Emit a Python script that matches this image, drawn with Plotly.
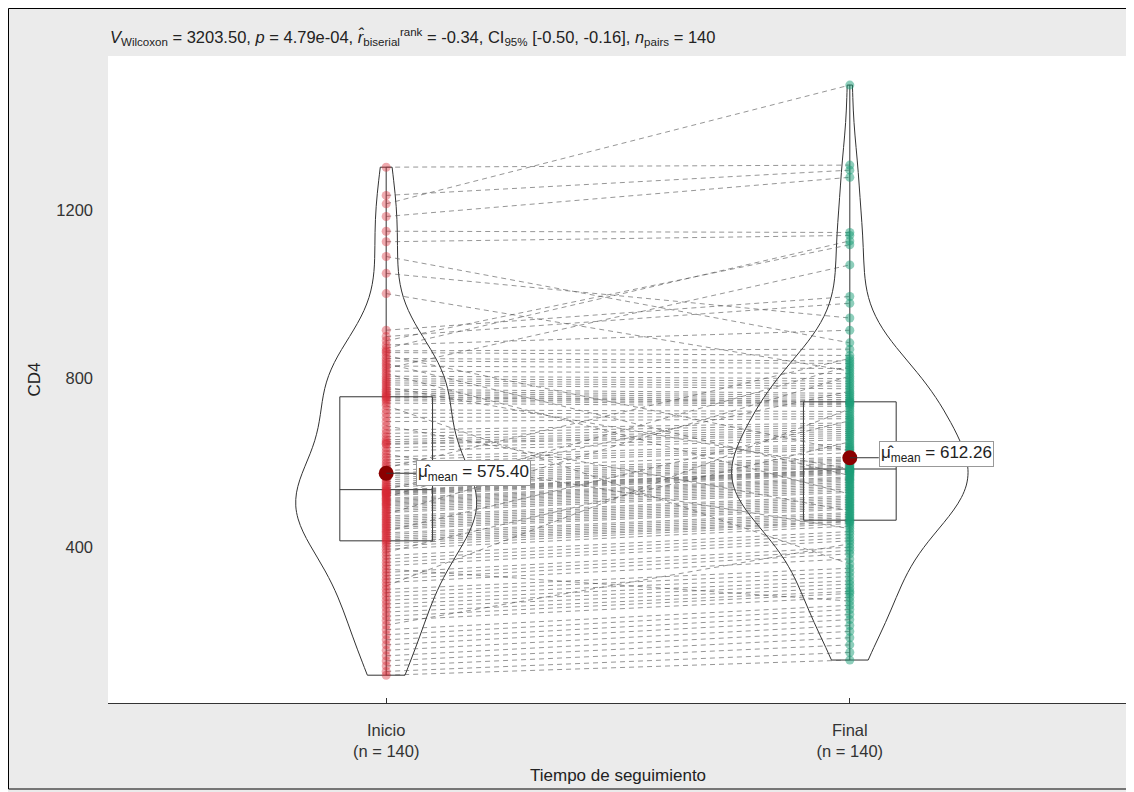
import plotly.graph_objects as go
import numpy as np

groups = ["Inicio", "Final"]
tick_labels = ["Inicio<br>(n = 140)", "Final<br>(n = 140)"]
x_title = "Tiempo de seguimiento"
y_title = "CD4"
y_ticks = [400, 800, 1200]

# CD4 at baseline (paired order)
inicio = [96, 105, 118, 130, 142, 155, 168, 180, 192, 204, 215, 226, 236, 246, 256, 265, 274, 283, 292, 300,
          308, 316, 324, 332, 340, 348, 356, 364, 372, 380, 388, 395, 402, 408, 413,
          417, 421, 425, 430, 434, 438, 442, 446, 450, 454, 458, 462, 466, 470, 474, 478, 482, 486, 490, 494,
          498, 501, 504, 507, 510, 513, 516, 519, 522, 525, 527, 529, 531, 533, 535,
          538, 542, 546, 550, 555, 560, 565, 570, 576, 582, 588, 594, 600, 607, 614, 621, 628, 636, 644, 646,
          650, 655, 662, 670, 678, 688, 698, 708, 718, 726, 736, 742, 748, 752, 756,
          758, 762, 766, 770, 775, 780, 785, 790, 795, 800, 806, 812, 818, 824, 830, 836, 842, 848, 855, 862,
          866, 872, 880, 890, 900, 915, 1002, 1050, 1090, 1125, 1150, 1185, 1215, 1235, 1302]

# CD4 at end of follow-up (same patients, same order)
final = [132, 150, 168, 185, 200, 214, 228, 240, 252, 262, 408, 281, 290, 295, 303, 312, 320, 330, 340, 350,
         728, 372, 384, 392, 400, 272, 415, 422, 430, 437, 650, 450, 456, 460, 462,
         466, 470, 474, 478, 482, 700, 490, 494, 498, 502, 506, 510, 514, 518, 522, 806, 530, 534, 538, 542,
         546, 550, 554, 558, 561, 564, 567, 830, 573, 576, 578, 580, 582, 584, 585,
         770, 590, 593, 596, 600, 604, 607, 610, 614, 624, 848, 632, 636, 640, 645, 444, 655, 660, 665, 670,
         675, 680, 685, 690, 695, 486, 705, 710, 716, 722, 360, 734, 738, 741, 744,
         746, 750, 755, 760, 765, 586, 776, 782, 788, 794, 800, 526, 812, 1070, 824, 570, 836, 842, 628, 855,
         870, 1127, 915, 1118, 979, 995, 818, 944, 885, 1140, 1147, 1278, 1497, 1295, 1307]

series = [inicio, final]
positions = [1, 2]
point_colors = ["rgba(214,39,52,0.4)", "rgba(27,158,119,0.5)"]
violin_widths = [0.39, 0.51]
bandwidths = [95, 90]
label_xshift = [30, 29]
label_yshift = [0, 4]

title_html = ("<i>V</i><sub>Wilcoxon</sub> = 3203.50, <i>p</i> = 4.79e-04, "
              "<i>r̂</i><sub>biserial</sub><sup>rank</sup> = -0.34, CI<sub>95%</sub> [-0.50, -0.16], "
              "<i>n</i><sub>pairs</sub> = 140")

FONT = "Liberation Sans, Arial, sans-serif"
FS = 17

fig = go.Figure()

# violins
for pos, vals, w, bw in zip(positions, series, violin_widths, bandwidths):
    fig.add_trace(go.Violin(x0=pos, y=vals, width=w, bandwidth=bw, spanmode="hard",
                            scalemode="width", points=False,
                            line=dict(color="#333333", width=1),
                            fillcolor="rgba(255,255,255,0)",
                            box_visible=False, meanline_visible=False,
                            hoverinfo="skip", showlegend=False))

# boxes
for pos, vals in zip(positions, series):
    fig.add_trace(go.Box(x0=pos, y=vals, width=0.2, boxpoints=False, whiskerwidth=0,
                         quartilemethod="linear",
                         line=dict(color="#333333", width=1),
                         fillcolor="rgba(255,255,255,0.2)",
                         hoverinfo="skip", showlegend=False))

# paired connecting lines
lx, ly = [], []
for a, b in zip(inicio, final):
    lx += [positions[0], positions[1], None]
    ly += [a, b, None]
fig.add_trace(go.Scatter(x=lx, y=ly, mode="lines",
                         line=dict(color="rgba(80,80,80,0.6)", width=1, dash="5px,4px"),
                         hoverinfo="skip", showlegend=False))

# points
for pos, vals, col in zip(positions, series, point_colors):
    fig.add_trace(go.Scatter(x=[pos] * len(vals), y=vals, mode="markers",
                             marker=dict(size=9, color=col, line=dict(width=0)),
                             hoverinfo="skip", showlegend=False))

# means
annotations = []
shapes = []
for pos, vals, sh, ysh in zip(positions, series, label_xshift, label_yshift):
    m = float(np.mean(vals))
    shapes.append(dict(type="line", xref="x", yref="y", xsizemode="pixel", xanchor=pos,
                       x0=0, x1=sh, y0=m, y1=m, line=dict(color="#333333", width=1), layer="above"))
    fig.add_trace(go.Scatter(x=[pos], y=[m], mode="markers",
                             marker=dict(size=15, color="#8B0000"),
                             hoverinfo="skip", showlegend=False))
    annotations.append(dict(x=pos, y=m, xref="x", yref="y", xanchor="left", yanchor="middle",
                            xshift=sh, yshift=ysh, showarrow=False,
                            text=f"μ̂<sub>mean</sub> = {m:.2f}",
                            font=dict(size=17, color="#222222"),
                            bgcolor="white", bordercolor="#999999", borderwidth=1, borderpad=1))

# page offset of the figure (browser body margin)
OFF = 8
W, H = 1134 - OFF, 792 - OFF
PANEL_L, PANEL_T, PANEL_R, PANEL_B = 108, 56, 1128, 703  # page pixels
L = PANEL_L - OFF
T = PANEL_T - OFF
R = W - (PANEL_R - OFF)
B = H - (PANEL_B - OFF)
pw = PANEL_R - PANEL_L
ph = PANEL_B - PANEL_T

annotations.append(dict(x=(34 - PANEL_L) / pw, y=0.5, xref="paper", yref="paper", text=y_title,
                        xanchor="center", yanchor="middle",
                        textangle=-90, showarrow=False, font=dict(size=FS, color="#222222")))
annotations.append(dict(x=0.5, y=1 - (775 - PANEL_T) / ph, xref="paper", yref="paper", text=x_title,
                        xanchor="center", yanchor="middle",
                        showarrow=False, font=dict(size=FS, color="#222222")))

shapes.append(dict(type="rect", xref="paper", yref="paper",
                   x0=(8.5 - PANEL_L) / pw, x1=(1130 - PANEL_L) / pw,
                   y0=1 - (789 - PANEL_T) / ph, y1=1 + (PANEL_T - 8.5) / ph,
                   line=dict(color="black", width=1), fillcolor="rgba(0,0,0,0)", layer="below"))

fig.update_layout(
    width=W, height=H,
    margin=dict(l=L, r=R, t=T, b=B),
    paper_bgcolor="#EBEBEB",
    plot_bgcolor="white",
    font=dict(family=FONT, size=FS, color="#333333"),
    title=dict(text=title_html, x=(110 - OFF) / W, xanchor="left", xref="container",
               y=1 - (37 - OFF) / H, yanchor="middle", yref="container",
               font=dict(size=16.5, color="#222222")),
    boxmode="overlay", violinmode="overlay",
    showlegend=False,
    annotations=annotations,
    shapes=shapes,
    xaxis=dict(range=[0.4, 2.6], tickmode="array", tickvals=positions, ticktext=tick_labels,
               showgrid=False, zeroline=False, showline=True, linecolor="#333333", linewidth=1,
               ticks="inside", ticklen=5, tickcolor="#333333", ticklabelstandoff=12,
               tickfont=dict(size=16.5, color="#333333")),
    yaxis=dict(range=[30, 1566], tickmode="array", tickvals=y_ticks,
               showgrid=False, zeroline=False, showline=False, ticks="",
               ticklabelstandoff=14, tickfont=dict(size=16.5, color="#333333")),
)

fig.write_html("out.html")
